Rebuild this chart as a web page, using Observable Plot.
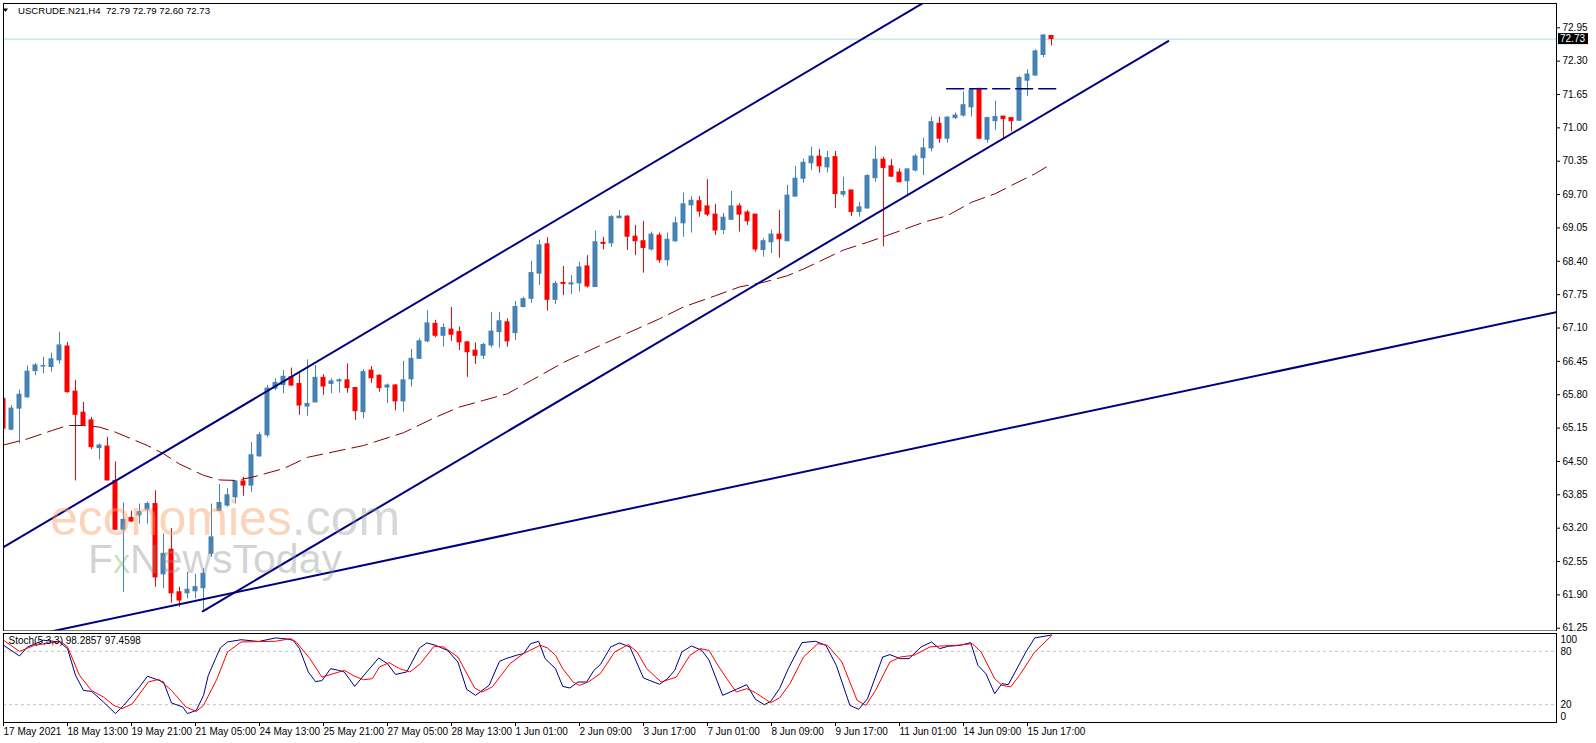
<!DOCTYPE html>
<html><head><meta charset="utf-8">
<script src="https://cdn.jsdelivr.net/npm/d3@7"></script>
<script src="https://cdn.jsdelivr.net/npm/@observablehq/plot@0.6"></script>
<style>
body{margin:0;background:#fff;}
#wrap{position:relative;width:1596px;height:743px;overflow:hidden;font-family:"Liberation Sans",Arial,sans-serif;}
#main,#stoch,#overlay{position:absolute;left:0;}
#main{top:0}
#stoch{top:631px}
#overlay{top:0;pointer-events:none}
</style></head><body>
<div id="wrap"><div id="main"></div><div id="stoch"></div><svg id="overlay" width="1596" height="743"></svg></div>
<script>
const symbol = "USCRUDE.N21,H4";
const opens  = [65.72,65.12,65.53,65.75,66.26,66.35,66.34,66.47,66.74,65.86,65.45,65.30,64.76,64.79,64.12,63.17,63.40,63.45,63.56,63.67,62.30,62.78,61.95,61.93,61.97,62.03,62.70,63.54,63.64,63.80,64.11,64.03,64.60,65.01,65.92,65.99,66.14,66.01,65.57,65.65,66.13,66.01,66.06,66.08,65.93,65.46,66.27,66.17,65.94,65.98,65.67,66.10,66.50,66.84,67.18,66.95,67.07,67.02,66.82,66.66,66.56,66.76,67.02,67.21,67.00,67.51,67.67,68.16,68.73,67.65,67.98,67.95,67.97,68.30,67.90,68.76,68.75,69.24,69.27,68.88,68.79,68.63,68.90,68.42,68.79,69.14,69.49,69.57,69.47,69.31,69.01,69.21,69.47,69.35,69.31,68.62,68.77,68.92,68.79,69.66,70.01,70.31,70.44,70.23,70.43,69.70,69.78,69.36,69.43,70.02,70.38,70.25,70.13,69.96,70.17,70.41,70.60,71.08,70.79,71.19,71.24,71.40,71.76,70.77,71.13,71.22,71.19,71.14,71.92,72.02,72.42,72.79];
const highs  = [65.76,65.59,65.89,66.36,66.41,66.53,66.61,67.02,66.82,66.08,65.65,65.36,64.84,64.97,64.49,63.69,63.53,63.67,63.71,63.93,63.09,63.19,62.05,62.34,62.30,62.41,63.67,64.05,63.97,64.11,64.19,64.87,65.07,65.98,66.11,66.27,66.32,66.21,66.48,66.37,66.19,66.11,66.11,66.40,65.93,66.29,66.35,66.19,66.01,66.00,66.45,66.68,66.89,67.44,67.25,67.18,67.50,67.12,66.84,66.81,66.80,67.40,67.40,67.28,67.62,67.70,68.40,68.81,68.86,68.01,68.30,68.12,68.38,68.51,68.99,68.87,69.29,69.39,69.29,69.10,69.18,68.97,68.95,68.95,69.26,69.73,69.66,69.66,69.99,69.51,69.33,69.76,69.52,69.39,69.31,68.84,69.01,69.39,69.88,70.25,70.39,70.62,70.58,70.54,70.54,70.04,69.78,69.55,70.09,70.64,70.43,70.38,70.20,70.20,70.48,70.80,71.21,71.21,71.22,71.29,71.70,71.76,71.77,71.21,71.52,71.22,71.19,72.00,72.13,72.52,72.82,72.79];
const lows   = [65.10,65.10,64.84,65.73,66.17,66.21,66.24,66.40,65.83,64.12,65.20,64.73,64.53,64.12,63.16,61.95,63.31,63.28,63.28,62.05,62.02,61.74,61.66,61.82,61.82,61.60,62.63,63.53,63.61,63.67,63.82,63.90,64.58,64.96,65.88,65.82,65.96,65.40,65.38,65.65,65.79,65.82,65.83,65.83,65.30,65.33,66.02,65.85,65.63,65.49,65.46,65.95,66.49,66.81,66.91,66.73,66.84,66.66,66.14,66.39,66.49,66.71,66.71,66.73,66.86,67.49,67.58,67.93,67.43,67.56,67.73,67.75,67.80,67.88,67.90,68.62,68.67,69.23,68.61,68.51,68.17,68.60,68.36,68.30,68.77,68.87,68.95,69.26,69.27,68.90,68.92,69.20,68.97,69.10,68.58,68.48,68.55,68.46,68.79,69.66,69.92,70.17,70.12,70.12,69.43,69.65,69.27,69.26,69.42,69.94,68.68,70.03,69.94,69.70,70.14,70.07,70.53,70.70,70.70,71.16,71.21,71.21,70.77,70.70,70.95,70.79,70.92,71.13,71.61,72.00,72.37,72.60];
const closes = [65.14,65.53,65.80,66.25,66.37,66.36,66.49,66.76,65.85,65.41,65.21,64.78,64.81,64.13,63.17,63.36,63.33,63.51,63.67,62.24,62.70,61.93,61.79,62.00,62.05,62.31,63.02,63.69,63.84,64.11,64.03,64.62,65.01,65.92,66.03,66.15,65.98,65.59,65.62,66.13,65.96,66.06,66.08,65.93,65.48,66.24,66.12,65.93,65.98,65.67,66.08,66.50,66.84,67.19,66.95,67.10,66.97,66.82,66.63,66.56,66.77,67.03,67.23,66.84,67.51,67.66,68.17,68.71,67.65,67.96,67.96,67.97,68.28,67.91,68.77,68.74,69.26,69.27,68.88,68.79,68.66,68.92,68.42,68.82,69.14,69.51,69.58,69.37,69.31,69.00,69.25,69.47,69.31,69.18,68.63,68.79,68.92,68.83,69.68,70.01,70.32,70.44,70.25,70.41,69.71,69.75,69.36,69.45,70.06,70.38,70.22,70.05,69.94,70.19,70.44,70.60,71.11,70.79,71.20,71.24,71.44,71.73,70.79,71.19,71.21,71.17,71.13,71.97,72.04,72.49,72.80,72.73];

// moving average (bar, price)
const maBars   = [0,3,6,8,10,12,14,18,20,22,25,27,29,31,35,38,45,50,54,57,60,63,66,70,76,82,85,89,92,95,98,100,105,108,112,115,118,121,124,126,129,131];
const maValues = [64.82,64.94,65.10,65.20,65.20,65.17,65.07,64.81,64.65,64.45,64.23,64.14,64.13,64.19,64.36,64.58,64.81,65.06,65.36,65.56,65.69,65.82,66.08,66.43,66.86,67.28,67.51,67.73,67.90,67.99,68.12,68.25,68.62,68.77,68.99,69.16,69.29,69.55,69.72,69.88,70.11,70.30];

// drawn objects (bar, price)
const upperChannel = [[0, 62.83], [116, 73.53]];
const lowerChannel = [[24.9, 61.58], [145.6, 72.69]];
const longSupport  = [[0, 60.99], [194.1, 67.41]];
const resistance   = [[117.9, 71.76], [132.1, 71.76]];

const priceTicks = [61.25,61.90,62.55,63.20,63.85,64.50,65.15,65.80,66.45,67.10,67.75,68.40,69.05,69.70,70.35,71.00,71.65,72.30,72.95];
const xLabelBars = [0,8,16,24,32,40,48,56,64,72,80,88,96,104,112,120,128];
const xLabels = ["17 May 2021","18 May 13:00","19 May 21:00","21 May 05:00","24 May 13:00","25 May 21:00","27 May 05:00","28 May 13:00","1 Jun 01:00","2 Jun 09:00","3 Jun 17:00","7 Jun 01:00","8 Jun 09:00","9 Jun 17:00","11 Jun 01:00","14 Jun 09:00","15 Jun 17:00"];

// Stochastic (5,3,3)
const stochName = "Stoch(5,3,3)";
const stochKLast = 98.2857, stochDLast = 97.4598;
const stochK = [[0,86.75],[2,74.75],[3,84.9],[5,92.4],[7,90.5],[8,83],[9,53],[10,36],[11,35],[12.5,23],[14,10],[15,19],[17,40],[18,52],[20,45.5],[21,22],[22.4,17.4],[23,10],[24.1,13.6],[25,30.5],[25.6,53],[26.5,71.75],[27.1,83.75],[28,90.5],[29.7,93],[31.9,91],[34,95],[35.3,94],[36.2,92.4],[37,83],[38.1,56.75],[39,46],[39.8,47],[40.9,60.5],[41.9,58.6],[42.6,56.75],[43.9,40.6],[45.4,56.75],[46.9,72.5],[48,66],[49,54],[50.4,56.75],[52,83.75],[52.9,89.4],[54,86.75],[55.5,81],[56.8,68],[57.9,37.25],[59,30.5],[60.7,41.75],[62,68.75],[62.8,71.75],[64.1,75.5],[65,77.4],[65.9,88.6],[66.9,91.25],[67.7,71.75],[69,60.5],[69.9,40.6],[70.8,38.75],[71.8,45.5],[72.9,45.5],[73.8,58.6],[74.6,65],[75.9,84.9],[77,89.4],[78.3,84.9],[80,50],[82,42.9],[83,49.25],[83.9,58.6],[84.8,79.25],[86,86],[87.3,81],[88.2,69.9],[89.9,30.5],[91.6,37.25],[92.9,42.5],[94,26],[95.1,20],[95.9,23.75],[97,38],[98.1,60.5],[99.8,89.75],[101.5,91.25],[102.8,86.75],[104.1,64.25],[105.8,19.25],[106.9,14.75],[108,26.75],[109.9,73.6],[110.8,76.25],[112.1,71.75],[113.2,71.75],[114.7,84.9],[116,90.5],[117,83],[118.1,85.6],[119.6,86.75],[120.9,89.75],[121.8,64.25],[122.8,54.9],[123.9,32.4],[124.8,43.6],[125.6,42.5],[127.8,79.25],[128.9,95],[131,98.2857]];
const stochD = [[0,92.4],[2,80],[3.9,86.75],[7.1,91.25],[8,85],[9.5,53],[11,36],[12.5,28.6],[13.8,19.25],[14.8,15.5],[16.1,21],[18.1,45.5],[19.4,48.5],[21,36],[22.8,17.4],[24.1,12.5],[25,19.25],[26.7,49.25],[28,79.25],[29.7,90.5],[34,91.25],[35.9,94.25],[36.6,90.5],[38.3,71.75],[39.8,51],[41.3,55],[42.6,58.6],[43.9,52],[45,48],[46.1,49.25],[47,62.4],[48.2,67.25],[49.5,60.5],[50.8,56.75],[52.1,66],[53.8,85.6],[55,84.9],[56.8,73.6],[58.9,38.75],[59.8,34.25],[61.1,40],[63.3,66],[65,77.4],[65.8,81],[67.1,86.75],[68,83.75],[69,75.5],[69.9,60.5],[71.2,45.5],[72,41.75],[73.1,45.5],[74.6,54.9],[76.4,79.25],[78.1,87.5],[79.2,79.25],[80.4,60.5],[82.2,45.5],[84.1,51],[85.8,75.5],[87.1,83],[88.2,81],[89.3,64.25],[90.4,49.25],[91.6,34.25],[92.9,38],[94,33.5],[95.9,22.25],[97,27.5],[98.3,43.6],[100,73.6],[101.8,88.6],[103,86.75],[104.8,68],[106.7,24.9],[107.8,19.25],[109,36],[110.8,68],[112.1,73.6],[113.8,75.5],[115.8,84.9],[117.3,86],[119.2,86.75],[121.1,88.6],[122.2,79.25],[123.9,49.25],[124.8,41.75],[125.9,40],[127,53],[128.9,79.25],[131,97.4598]];
const stochLevels = [100, 80, 20, 0];

// ---------- build ----------
const BULL = "#4682b4", BEAR = "#ff0000", NAVY = "#000080";
const candles = opens.map((o, i) => ({i, o, h: highs[i], l: lows[i], c: closes[i]}));
const col = d => d.c >= d.o ? BULL : BEAR;
const ma = maBars.map((b, k) => ({b, v: maValues[k]}));
const toPts = arr => arr.map(([b, v]) => ({b, v}));
const last = candles[candles.length - 1];
const font = "'Liberation Sans', Arial, sans-serif";
const xDomain = [0, 194.125];

const main = Plot.plot({
  width: 1596, height: 631,
  marginLeft: 3, marginRight: 40, marginTop: 3, marginBottom: 0.5,
  x: {type: "linear", domain: xDomain, axis: null},
  y: {type: "linear", domain: [61.1963, 73.4235], axis: null},
  style: {fontFamily: font, fontSize: "10px", color: "black", background: "white", overflow: "visible"},
  marks: [
    Plot.ruleY([last.c], {stroke: "#a9dcdc", strokeWidth: 1}),
    Plot.ruleX(candles, {x: "i", y1: "l", y2: "h", stroke: col, strokeWidth: 1, clip: true}),
    Plot.rect(candles, {x1: d => d.i - 0.25, x2: d => d.i + 0.25, y1: "o", y2: "c", fill: col, stroke: col, strokeWidth: 1, clip: true}),
    Plot.line(ma, {x: "b", y: "v", stroke: "#800000", strokeWidth: 1, strokeDasharray: "16,7", clip: true}),
    Plot.line(toPts(upperChannel), {x: "b", y: "v", stroke: NAVY, strokeWidth: 2, clip: true}),
    Plot.line(toPts(lowerChannel), {x: "b", y: "v", stroke: NAVY, strokeWidth: 2, clip: true}),
    Plot.line(toPts(longSupport), {x: "b", y: "v", stroke: NAVY, strokeWidth: 2, clip: true}),
    Plot.line(toPts(resistance), {x: "b", y: "v", stroke: NAVY, strokeWidth: 1.5, strokeDasharray: "17,6", clip: true}),
    Plot.frame({stroke: "black"}),
    Plot.axisY({anchor: "right", label: null, ticks: priceTicks, tickFormat: d => d.toFixed(2), tickSize: 3, tickPadding: 3})
  ]
});
document.getElementById("main").appendChild(main);

// last-price tag on the right axis, placed through the plot's own y scale
{
  const ys = main.scale("y");
  const y = ys.apply(last.c);
  const x = 1596 - 40;
  const s = d3.select(main);
  s.append("rect").attr("x", x + 2).attr("y", y - 5.5).attr("width", 30).attr("height", 11).attr("fill", "black");
  s.append("text").attr("x", x + 4).attr("y", y).attr("dy", "0.36em").attr("fill", "white")
    .attr("text-anchor", "start").attr("font-family", font).attr("font-size", 10).text(last.c.toFixed(2));
  // title
  s.append("path").attr("d", "M3,8.5 L8,8.5 L5.5,12 Z").attr("fill", "black");
  s.append("text").attr("x", 18).attr("y", 13.5).attr("font-family", font).attr("font-size", 9.6)
    .attr("text-anchor", "start").attr("fill", "black").attr("xml:space", "preserve").style("white-space", "pre")
    .text(`${symbol}  ${last.o.toFixed(2)} ${last.h.toFixed(2)} ${last.l.toFixed(2)} ${last.c.toFixed(2)}`);
}

const stoch = Plot.plot({
  width: 1596, height: 112,
  marginLeft: 3, marginRight: 40, marginTop: 2, marginBottom: 21,
  x: {type: "linear", domain: xDomain, axis: null},
  y: {type: "linear", domain: [0, 100], axis: null},
  style: {fontFamily: font, fontSize: "10px", color: "black", background: "white", overflow: "visible"},
  marks: [
    Plot.ruleY(stochLevels.filter(v => v > 0 && v < 100), {stroke: "#c0c0c0", strokeDasharray: "3,3"}),
    Plot.line(toPts(stochK), {x: "b", y: "v", stroke: NAVY, strokeWidth: 1}),
    Plot.line(toPts(stochD), {x: "b", y: "v", stroke: "#ff0000", strokeWidth: 1}),
    Plot.text([`${stochName} ${stochKLast.toFixed(4)} ${stochDLast.toFixed(4)}`], {frameAnchor: "top-left", dx: 5, dy: 3, lineAnchor: "top", textAnchor: "start", fill: "black"}),
    Plot.frame({stroke: "black"}),
    Plot.text(stochLevels.filter(v => v > 0 && v < 100), {y: d => d, text: d => String(d), frameAnchor: "right", textAnchor: "start", dx: 4, fill: "black"}),
    Plot.text(stochLevels.filter(v => v === 100), {y: d => d, text: d => String(d), frameAnchor: "right", textAnchor: "start", dx: 4, dy: 6, fill: "black"}),
    Plot.text(stochLevels.filter(v => v === 0), {y: d => d, text: d => String(d), frameAnchor: "right", textAnchor: "start", dx: 4, dy: -6, fill: "black"}),
    Plot.axisX({anchor: "bottom", label: null, ticks: xLabelBars, tickFormat: d => xLabels[xLabelBars.indexOf(d)], textAnchor: "start", tickSize: 4, tickPadding: 1})
  ]
});
document.getElementById("stoch").appendChild(stoch);

// watermark overlay
{
  const o = d3.select("#overlay");
  const t1 = o.append("text").attr("x", 50).attr("y", 535).attr("font-family", font).attr("font-size", 50);
  t1.append("tspan").attr("fill", "rgba(249,160,100,0.45)").text("economies");
  t1.append("tspan").attr("fill", "rgba(140,140,140,0.35)").text(".com");
  const t2 = o.append("text").attr("x", 88).attr("y", 573).attr("font-family", font).attr("font-size", 41);
  t2.append("tspan").attr("fill", "rgba(140,140,140,0.38)").text("F");
  t2.append("tspan").attr("fill", "rgba(90,170,90,0.35)").attr("font-size", 34).text("x");
  t2.append("tspan").attr("fill", "rgba(140,140,140,0.38)").text("NewsToday");
}
</script>
</body></html>
